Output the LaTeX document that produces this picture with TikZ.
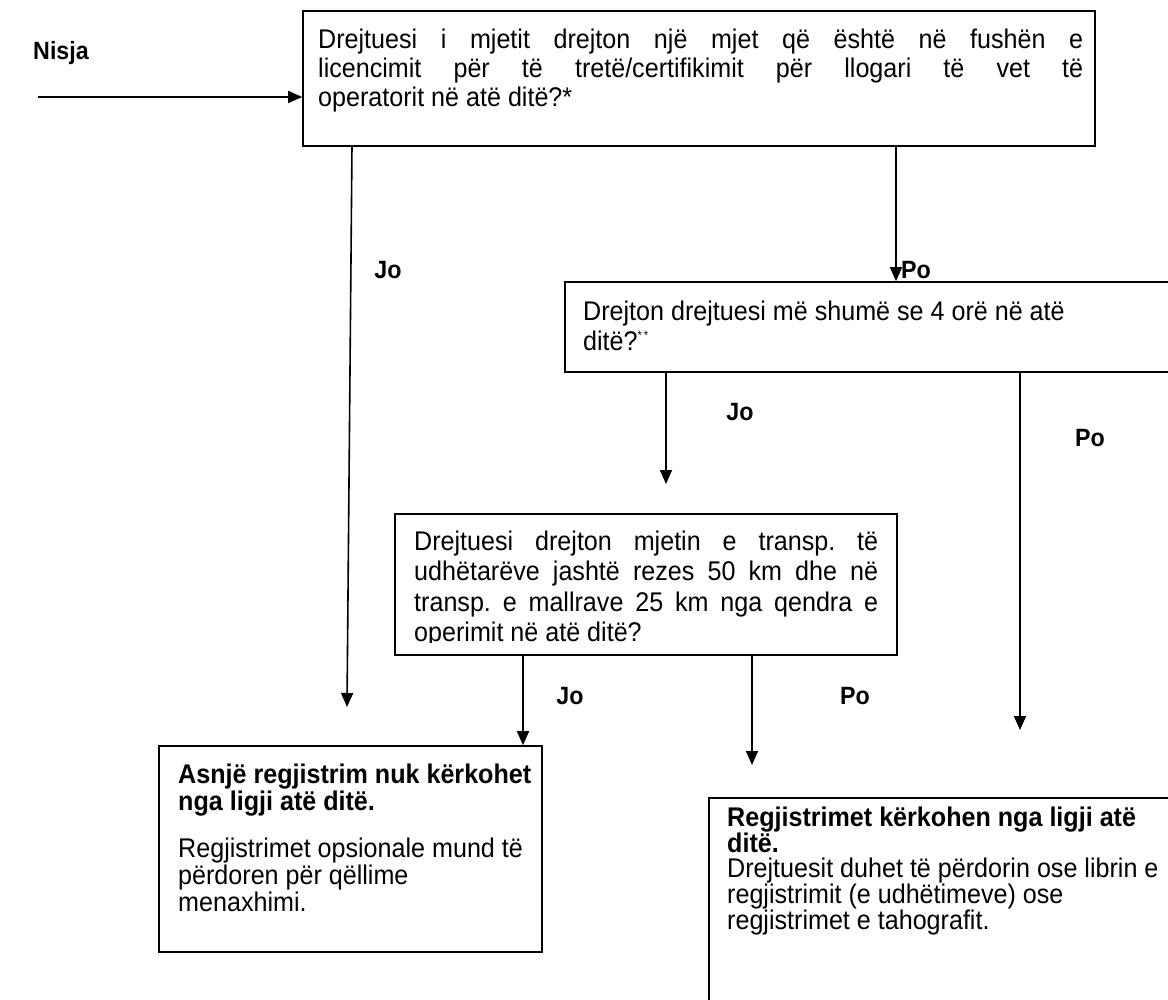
\documentclass[tikz,border=0pt]{standalone}
\usepackage{fontspec}
\setmainfont{Liberation Sans}[FakeStretch=0.93]
\usetikzlibrary{arrows.meta}
\newcommand\jl[2]{\hbox to #1{#2}}
\frenchspacing
\begin{document}
\begin{tikzpicture}[x=1pt,y=-1pt,
  box/.style={draw, line width=1.6pt, rectangle, inner sep=0pt},
  txt/.style={anchor=base west, inner sep=0pt},
  lbl/.style={font=\fontsize{25}{28}\selectfont\bfseries, inner sep=0pt},
  arr/.style={line width=1.6pt, -{Triangle[length=14pt,width=12pt]}}]
\useasboundingbox (0,0) rectangle (1168,1000);
\clip (0,0) rectangle (1168,1000);

% boxes
\node[box, minimum width=792pt, minimum height=135pt] (A) at (699,78.5) {};
\node[box, minimum width=615pt, minimum height=90pt] (B) at (872.5,327) {};
\node[box, minimum width=502pt, minimum height=141pt] (C) at (646,584.5) {};
\node[box, minimum width=383pt, minimum height=206pt] (D) at (350.5,849) {};
\node[box, minimum width=471pt, minimum height=212pt] (E) at (944.5,904) {};

% texts
\node[txt] (tA) at (318,49) {\parbox[t]{765pt}{\fontsize{27}{29}\selectfont
\jl{765pt}{Drejtuesi i mjetit drejton një mjet që është në fushën e}
\jl{765pt}{licencimit për të tretë/certifikimit për llogari të vet të}
\hbox{operatorit në atë ditë?*}}};

\node[txt] (tB) at (583,321) {\parbox[t]{570pt}{\fontsize{27}{30}\selectfont
\hbox{Drejton drejtuesi më shumë se 4 orë në atë}
\hbox{ditë?\raisebox{11pt}{\fontsize{12}{12}\selectfont*\,*}}}};

\begin{scope}
\clip (396,515) rectangle (896,642.5);
\node[txt] (tC) at (414,550) {\parbox[t]{464pt}{\fontsize{27}{30.5}\selectfont
\jl{464pt}{Drejtuesi drejton mjetin e transp. të}
\jl{464pt}{udhëtarëve jashtë rezes 50 km dhe në}
\jl{464pt}{transp. e mallrave 25 km nga qendra e}
\hbox{operimit në atë ditë?}}};
\end{scope}

\node[txt] (tD) at (178,783) {\parbox[t]{360pt}{\fontsize{27}{27}\selectfont
\hbox{\bfseries Asnjë regjistrim nuk kërkohet}
\hbox{\bfseries nga ligji atë ditë.}
\vskip 20pt
\hbox{Regjistrimet opsionale mund të}
\hbox{përdoren për qëllime}
\hbox{menaxhimi.}}};

\node[txt] (tE) at (727,826) {\parbox[t]{440pt}{\fontsize{27}{25}\selectfont
\hbox{\bfseries Regjistrimet kërkohen nga ligji atë}
\hbox{\bfseries ditë.}
\hbox{Drejtuesit duhet të përdorin ose librin e}
\hbox{regjistrimit (e udhëtimeve) ose}
\hbox{regjistrimet e tahografit.}}};

% labels
\node[lbl] (nisja) at (61,53) {Nisja};
\node[lbl] (jo1) at (388,270) {Jo};
\node[lbl] (po1) at (916,270) {Po};
\node[lbl] (jo2) at (740,412) {Jo};
\node[lbl] (po2) at (1090,438) {Po};
\node[lbl] (jo3) at (570,696) {Jo};
\node[lbl] (po3) at (855,696) {Po};

% connector coordinates
\coordinate (n0) at (38,97);
\coordinate (j1s) at (352,146);
\coordinate (j1e) at (347,707);
\coordinate (p1s) at (896,146);
\coordinate (j2s) at (666,372);
\coordinate (j2e) at (666,484);
\coordinate (p2s) at (1020,372);
\coordinate (p2e) at (1020,730);
\coordinate (j3s) at (523,655);
\coordinate (p3s) at (752,655);
\coordinate (p3e) at (752,765);

% connectors
\draw[arr] (n0) -- (n0 -| A.west);
\draw[arr] (j1s) -- (j1e);
\draw[arr] (p1s) -- (p1s |- B.north);
\draw[arr] (j2s) -- (j2e);
\draw[arr] (p2s) -- (p2e);
\draw[arr] (j3s) -- (j3s |- D.north);
\draw[arr] (p3s) -- (p3e);
\end{tikzpicture}
\end{document}
